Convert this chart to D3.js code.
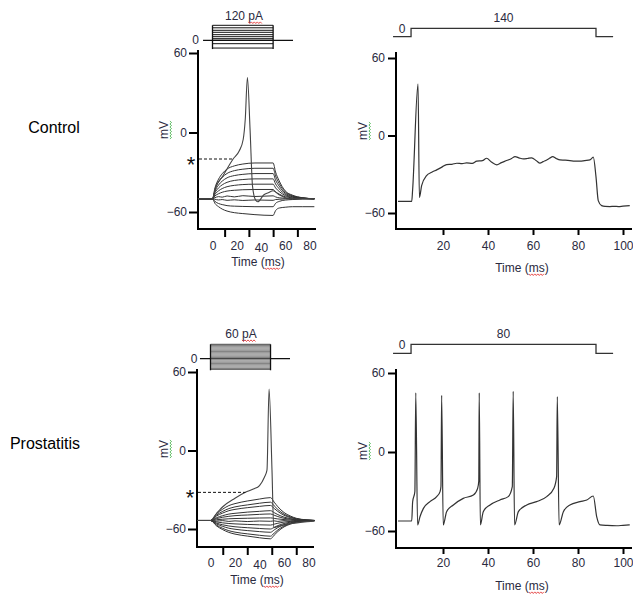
<!DOCTYPE html>
<html>
<head>
<meta charset="utf-8">
<script src="https://cdn.jsdelivr.net/npm/d3@7"></script>
<style>
  body { margin: 0; background: #fff; }
  svg text { font-family: "Liberation Sans", Arial, sans-serif; fill: #2a2a40; }
</style>
</head>
<body>
<div id="chart"></div>
<script>
// ---- labels and ticks ----
var rowLabels = ["Control", "Prostatitis"];
var stepLabels = ["120 pA", "60 pA"];
var rampLabels = ["140", "80"];
var yTicks = [-60, 0, 60];
var leftTickMarks = [10, 30, 50, 70];
var leftTickLabels = [0, 20, 40, 60, 80];
var rightTicks = [20, 40, 60, 80, 100];

// ---- control: current steps (left) ----
var ctrlStimCurrents = [120, 100, 80, 64, 45, 29, 13, 0, -27, -62];
var ctrlStepTime = [0, 50];
var ctrlTime = [-12, 0, 2, 5, 8, 12, 18, 25, 35, 50, 52, 55, 60, 66, 74, 84];
var ctrlTraces = [
  [-50, -50, -41.9, -35.2, -31.1, -27.6, -25.2, -23.8, -23, -23, -29.8, -36.5, -44.1, -47.3, -49.2, -50],
  [-50, -50, -43.1, -37.4, -33.9, -30.9, -28.8, -27.7, -27, -27, -32.8, -38.5, -44.9, -47.7, -49.3, -50],
  [-50, -50, -44.3, -39.6, -36.7, -34.2, -32.5, -31.6, -31, -31, -35.8, -40.5, -45.8, -48.1, -49.4, -50],
  [-50, -50, -45.5, -41.8, -39.5, -37.6, -36.2, -35.5, -35, -35, -38.8, -42.5, -46.7, -48.5, -49.6, -50],
  [-50, -50, -46.7, -44, -42.3, -40.9, -39.9, -39.3, -39, -39, -41.8, -44.5, -47.6, -48.9, -49.7, -50],
  [-50, -50, -47.9, -46.2, -45.1, -44.2, -43.6, -43.2, -43, -43, -44.8, -46.5, -48.5, -49.3, -49.8, -50],
  [-50, -50, -49.2, -48.4, -48.8, -47.9, -48.6, -47.7, -48.3, -47.8, -48.6, -49.3, -49.6, -50.2, -49.8, -50],
  [-50, -50, -50.4, -50.9, -50.6, -51.2, -50.8, -51.3, -50.9, -51.2, -50.6, -50.4, -50.1, -50, -50, -50],
  [-50, -50, -52, -53.6, -54.4, -55.2, -55.6, -55.8, -56, -56, -53.5, -52, -51, -50.6, -50.2, -50],
  [-50, -50, -53.5, -56, -57.8, -59.3, -60.5, -61.2, -62, -62.6, -59, -57, -56.4, -56, -56, -56]
];
var ctrlSpikeTime = [-12, 0, 3, 8.4, 17, 22, 25.3, 27, 28.8, 31, 33, 35.5, 37.3, 42.4, 46, 50, 54.7, 62.9, 70, 84];
var ctrlSpikeV = [-50, -50, -40.5, -33, -20, -14, -5.3, 9.8, 41.5, 2, -40.5, -51, -52.3, -47, -45.5, -44, -46.8, -49.8, -50, -50];
var ctrlThreshold = [17, -20];

// ---- control: long step (right) ----
var ctrlRampTime = [-2.2, 5.8, 88, 95.6];
var ctrlRampLevel = 140;
var ctrlTrainTime = [0, 6.1, 6.5, 8.9, 9.5, 10.5, 12.7, 15, 17.2, 19.5, 21.6, 24, 26.1, 28.5, 30.5, 33, 35, 37.5, 39.4, 41.5,
  43.9, 46, 48.3, 50.5, 52, 54, 55.7, 57.5, 59.4, 61.5, 63.1, 64.5, 66.1, 67.5, 68.7, 70.5, 72, 74, 76.4, 78.5,
  80.9, 83, 85.3, 86.8, 88, 89, 90.5, 92, 94.2, 96, 98, 100, 103];
var ctrlTrainV = [-51, -51, -42, 40, -48, -38.8, -31, -28.5, -26.6, -24.5, -22.5, -22.3, -21.5, -21.8, -21.2, -21.6, -19.9, -19.5, -17.6, -20.5,
  -22.7, -21, -19.4, -17.8, -16.3, -17.5, -18.1, -17.8, -17.3, -19.5, -21.4, -20.2, -18.9, -17.5, -16.3, -18, -18.9, -19.1, -19.4, -19.8,
  -19.9, -19.4, -18.9, -16.8, -32, -50.4, -54.3, -54.9, -55, -54.8, -55, -54.7, -54.3];

// ---- prostatitis: current steps (left) ----
var prosStimCurrents = [60, 55, 50, 45, 40, 35, 30, 25, 20, 15, 10, 5, 0, -5, -10, -15, -20, -25, -30, -35, -40, -44];
var prosStepTime = [0, 49];
var prosTime = [-11, 0, 5, 10, 15, 20, 30, 40, 49, 52, 55, 60, 65, 70, 78, 85];
var prosTraces = [
  [-53.5, -53.5, -48.3, -44.8, -42.1, -40.6, -38.6, -37.1, -36, -39.5, -43, -47.4, -50, -51.8, -53, -53.5],
  [-53.5, -53.5, -49.3, -46.5, -44.4, -43.1, -41.6, -40.3, -39.5, -42.3, -45.1, -48.6, -50.7, -52.1, -53.1, -53.5],
  [-53.5, -53.5, -50, -47.8, -46, -45, -43.7, -42.7, -42, -44.3, -46.6, -49.5, -51.2, -52.4, -53.2, -53.5],
  [-53.5, -53.5, -51.3, -49.8, -48.6, -48, -47.1, -46.5, -46, -47.5, -49, -50.9, -52, -52.8, -53.3, -53.5],
  [-53.5, -53.5, -52, -51, -50.3, -49.8, -49.3, -48.8, -48.5, -49.5, -50.5, -51.8, -52.5, -53, -53.4, -53.5],
  [-53.5, -53.5, -52.9, -52.5, -52.2, -52, -51.8, -51.6, -51.5, -51.9, -52.3, -52.8, -53.1, -53.3, -53.4, -53.5],
  [-53.5, -53.5, -53.9, -53.6, -54.2, -53.8, -54.3, -53.9, -54.1, -53.8, -54.2, -53.6, -53.9, -53.4, -53.6, -53.5],
  [-53.5, -53.5, -54.6, -55.3, -55.8, -56.1, -56.5, -56.8, -57, -56.3, -55.6, -54.7, -54.2, -53.9, -53.6, -53.5],
  [-53.5, -53.5, -55.5, -56.8, -57.7, -58.3, -59, -59.6, -60, -58.7, -57.4, -55.8, -54.8, -54.2, -53.7, -53.5],
  [-53.5, -53.5, -56.2, -58, -59.4, -60.2, -61.2, -62, -62.5, -60.7, -58.9, -56.7, -55.3, -54.4, -53.8, -53.5],
  [-53.5, -53.5, -57.1, -59.5, -61.3, -62.4, -63.7, -64.8, -65.5, -63.1, -60.7, -57.7, -55.9, -54.7, -53.9, -53.5],
  [-53.5, -53.5, -57.7, -60.5, -62.6, -63.9, -65.4, -66.7, -67.5, -64.7, -61.9, -58.4, -56.3, -54.9, -53.9, -53.5]
];
var prosSpikeTime = [-11, 0, 5, 10, 20, 28.5, 35, 40, 44, 46.1, 47.8, 50.2, 51.6, 55, 65, 85];
var prosSpikeV = [-53.5, -53.5, -48, -43, -36.5, -32, -29.5, -26.8, -20.4, -15, 47, -15, -59, -58, -56, -54];
var prosThreshold = [28.5, -32];

// ---- prostatitis: long step (right) ----
var prosRampTime = [-2.2, 5.8, 88, 95.6];
var prosRampLevel = 80;
var prosTrainTime = [0, 6.1, 6.5, 7.5, 7.9, 8.7, 9.8, 11.3, 14.2, 17.2, 18.7, 19.1, 19.4, 20.1, 21.6, 24.6, 29, 33.5, 35.4, 35.9, 36.1,
  36.6, 37.9, 40.9, 45.3, 49, 50.8, 51.2, 51.8, 53.5, 57.2, 61.6, 66.1, 69.3, 70.5, 70.8, 71.6, 73.5, 76.4, 80.9, 83.9,
  86.8, 88.3, 89.8, 93, 97.2, 100, 103];
var prosTrainV = [-52.4, -52.4, -38, -30, 45, -55.4, -49, -42.8, -37.7, -33.9, -30.1, -26, 43, -55.4, -45.3, -40.2, -35.2, -32.7, -27.6, -22, 45,
  -55.4, -45.3, -40.2, -36.4, -33.9, -26.3, 46, -55.4, -45.3, -40.2, -37.7, -33.9, -27.6, -18.7, 42, -55.4, -45.3, -40.2, -37.7, -36.4,
  -33.4, -49, -55.4, -55.8, -56, -55.7, -55.4];

// ---- drawing ----
var svg = d3.select("#chart").append("svg")
  .attr("width", 633)
  .attr("height", 614);

// wavy spell-check underline
function squiggle(g, x0, x1, y, color) {
  var pts = [];
  for (var x = x0, i = 0; x <= x1 + 0.01; x += 1.5, i++) {
    pts.push([x, y + (i % 2 ? 1 : -0.6)]);
  }
  g.append("path")
    .attr("d", d3.line()(pts))
    .attr("fill", "none")
    .attr("stroke", color)
    .attr("stroke-width", 0.8);
}

function styleAxis(g) {
  g.attr("font-size", 12).attr("font-family", "Liberation Sans, Arial, sans-serif");
  g.select(".domain").remove();
  g.selectAll(".tick line").attr("stroke", "#000").attr("stroke-width", 2);
}

function drawFrame(p) {
  var g = svg.append("g");

  // axis lines
  g.append("line")
    .attr("x1", p.axisX).attr("x2", p.axisX)
    .attr("y1", p.yTop).attr("y2", p.axisY + 1)
    .attr("stroke", "#000").attr("stroke-width", 2);
  g.append("line")
    .attr("x1", p.axisX - 1).attr("x2", p.xEnd)
    .attr("y1", p.axisY).attr("y2", p.axisY)
    .attr("stroke", "#000").attr("stroke-width", 2);

  // y axis
  var ya = g.append("g")
    .attr("transform", "translate(" + p.axisX + ",0)")
    .call(d3.axisLeft(p.y).tickValues(yTicks).tickSize(p.ySize).tickPadding(p.yPad));
  styleAxis(ya);

  // x axis
  if (p.left) {
    var xm = g.append("g")
      .attr("transform", "translate(0," + p.axisY + ")")
      .call(d3.axisBottom(p.x).tickValues(leftTickMarks).tickSize(8).tickFormat(""));
    styleAxis(xm);
    var xl = g.append("g")
      .attr("transform", "translate(0," + p.axisY + ")")
      .call(d3.axisBottom(p.x).tickValues(leftTickLabels).tickSize(0).tickPadding(p.xPad));
    styleAxis(xl);
    xl.selectAll(".tick text").attr("dy", function(d) { return d === 40 ? "0.95em" : "0.71em"; });
  } else {
    var xa = g.append("g")
      .attr("transform", "translate(0," + p.axisY + ")")
      .call(d3.axisBottom(p.x).tickValues(rightTicks).tickSize(6).tickPadding(p.xPad));
    styleAxis(xa);
  }

  // Time (ms)
  var tl = g.append("text")
    .attr("x", p.timeX).attr("y", p.timeY)
    .attr("text-anchor", "middle")
    .attr("font-size", 12)
    .text("Time (ms)");
  var n = tl.node();
  var s = n.getStartPositionOfChar(6).x;
  squiggle(g, s, s + n.getSubStringLength(6, 2), p.timeY + 2.5, "#e02020");

  // mV
  var mg = g.append("g").attr("transform", "translate(" + p.mvX + "," + p.mvY + ") rotate(-90)");
  var mv = mg.append("text")
    .attr("text-anchor", "middle")
    .attr("font-size", 12)
    .text("mV");
  var bw = mv.node().getComputedTextLength();
  squiggle(mg, -bw / 2, bw / 2, 2.5, "#3cb043");
  return g;
}

function linePath(xs, ys, x, y, curve) {
  return d3.line()
    .x(function(d, i) { return x(xs[i]); })
    .y(function(d) { return y(d); })
    .curve(curve || d3.curveLinear)(ys);
}

// ---------- panel with current-step family ----------
function leftPanel(o) {
  var g = drawFrame(o);

  // stimulus box
  var cs = o.cur;
  var sg = g.append("g");
  sg.append("line")
    .attr("x1", o.x(o.baseFrom)).attr("x2", o.x(o.baseTo))
    .attr("y1", cs(0)).attr("y2", cs(0))
    .attr("stroke", "#111").attr("stroke-width", 1.2);
  sg.selectAll("line.step")
    .data(o.currents)
    .enter().append("line")
    .attr("class", "step")
    .attr("x1", o.x(o.stepTime[0])).attr("x2", o.x(o.stepTime[1]))
    .attr("y1", function(d) { return cs(d); })
    .attr("y2", function(d) { return cs(d); })
    .attr("stroke", function(d, i) { return (i === 0 || i === o.currents.length - 1) ? "#111" : o.innerColor; })
    .attr("stroke-width", o.innerWidth);
  var ext = d3.extent(o.currents);
  o.stepTime.forEach(function(t) {
    sg.append("line")
      .attr("x1", o.x(t)).attr("x2", o.x(t))
      .attr("y1", cs(ext[1])).attr("y2", cs(ext[0]) + 1)
      .attr("stroke", "#111").attr("stroke-width", 1.3);
  });
  g.append("text")
    .attr("x", o.zeroX).attr("y", cs(0) + 4)
    .attr("text-anchor", "end").attr("font-size", 12)
    .text("0");
  var lab = g.append("text")
    .attr("x", o.labX).attr("y", o.labY)
    .attr("text-anchor", "middle").attr("font-size", 12)
    .text(o.label);
  var ln = lab.node();
  var ls = ln.getStartPositionOfChar(o.label.length - 2).x;
  squiggle(g, ls, ls + ln.getSubStringLength(o.label.length - 2, 2), o.labY + 2.5, "#e02020");

  // voltage traces
  g.selectAll("path.trace")
    .data(o.traces)
    .enter().append("path")
    .attr("class", "trace")
    .attr("d", function(d) { return linePath(o.time, d, o.x, o.y, d3.curveMonotoneX); })
    .attr("fill", "none")
    .attr("stroke", "#333")
    .attr("stroke-width", 1);
  g.append("path")
    .attr("d", linePath(o.spikeTime, o.spikeV, o.x, o.y, d3.curveMonotoneX))
    .attr("fill", "none")
    .attr("stroke", "#444")
    .attr("stroke-width", 1.1);

  // threshold
  g.append("line")
    .attr("x1", o.axisX + 1).attr("x2", o.x(o.threshold[0]))
    .attr("y1", o.y(o.threshold[1])).attr("y2", o.y(o.threshold[1]))
    .attr("stroke", "#111").attr("stroke-width", 1).attr("stroke-dasharray", "3,2");
  g.append("text")
    .attr("x", o.axisX - 7).attr("y", o.y(o.threshold[1]) + 12.5)
    .attr("text-anchor", "middle").attr("font-size", 22)
    .style("fill", "#111")
    .text("*");
}

// ---------- panel with long step ----------
function rightPanel(o) {
  var g = drawFrame(o);
  var rs = o.ramp;
  var stepPts = [
    [o.rampTime[0], 0], [o.rampTime[1], 0], [o.rampTime[1], o.rampLevel],
    [o.rampTime[2], o.rampLevel], [o.rampTime[2], 0], [o.rampTime[3], 0]
  ];
  g.append("path")
    .attr("d", d3.line().x(function(d) { return o.x(d[0]); }).y(function(d) { return rs(d[1]); })(stepPts))
    .attr("fill", "none").attr("stroke", "#333").attr("stroke-width", 1.3);
  g.append("text")
    .attr("x", o.x((o.rampTime[0] + o.rampTime[1]) / 2)).attr("y", rs(0) - 4)
    .attr("text-anchor", "middle").attr("font-size", 12)
    .text("0");
  g.append("text")
    .attr("x", o.x((o.rampTime[1] + o.rampTime[2]) / 2)).attr("y", rs(o.rampLevel) - 6)
    .attr("text-anchor", "middle").attr("font-size", 12)
    .text(o.label);

  g.append("path")
    .attr("d", linePath(o.time, o.v, o.x, o.y, d3.curveMonotoneX))
    .attr("fill", "none")
    .attr("stroke", "#333")
    .attr("stroke-width", 1.2);
}

// scales
var xTL = d3.scaleLinear().domain([0, 80]).range([212.5, 309.5]);
var yTL = d3.scaleLinear().domain([-60, 60]).range([212, 53]);
var xBL = d3.scaleLinear().domain([0, 80]).range([210.5, 308.5]);
var yBL = d3.scaleLinear().domain([-60, 60]).range([529, 372]);
var xR = d3.scaleLinear().domain([0, 100]).range([398, 623]);
var yTR = d3.scaleLinear().domain([-60, 60]).range([213, 58]);
var yBR = d3.scaleLinear().domain([-60, 60]).range([531, 373]);

leftPanel({
  left: true, x: xTL, y: yTL, axisX: 198, axisY: 229, xEnd: 316, yTop: 50,
  ySize: 9, yPad: 2, xPad: 12,
  timeX: 258, timeY: 266, mvX: 168, mvY: 130,
  cur: d3.scaleLinear().domain([0, 120]).range([40.3, 25.3]),
  currents: ctrlStimCurrents, stepTime: ctrlStepTime, baseFrom: -7.8, baseTo: 66.4,
  innerColor: "#111", innerWidth: 1,
  zeroX: 199, labX: 244, labY: 20, label: stepLabels[0],
  time: ctrlTime, traces: ctrlTraces, spikeTime: ctrlSpikeTime, spikeV: ctrlSpikeV, threshold: ctrlThreshold
});

leftPanel({
  left: true, x: xBL, y: yBL, axisX: 197, axisY: 547, xEnd: 314, yTop: 369,
  ySize: 9, yPad: 2, xPad: 11,
  timeX: 257, timeY: 584, mvX: 168, mvY: 449,
  cur: d3.scaleLinear().domain([0, 60]).range([358.7, 344.3]),
  currents: prosStimCurrents, stepTime: prosStepTime, baseFrom: -8.6, baseTo: 64.9,
  innerColor: "#666", innerWidth: 0.8,
  zeroX: 197.5, labX: 241, labY: 338, label: stepLabels[1],
  time: prosTime, traces: prosTraces, spikeTime: prosSpikeTime, spikeV: prosSpikeV, threshold: prosThreshold
});

rightPanel({
  left: false, x: xR, y: yTR, axisX: 396, axisY: 229, xEnd: 632, yTop: 52,
  ySize: 8, yPad: 3, xPad: 6,
  timeX: 522, timeY: 272, mvX: 367, mvY: 131,
  ramp: d3.scaleLinear().domain([0, 140]).range([36.7, 28.3]),
  rampTime: ctrlRampTime, rampLevel: ctrlRampLevel, label: rampLabels[0],
  time: ctrlTrainTime, v: ctrlTrainV
});

rightPanel({
  left: false, x: xR, y: yBR, axisX: 396, axisY: 548, xEnd: 632, yTop: 369,
  ySize: 8, yPad: 3, xPad: 4,
  timeX: 522, timeY: 590, mvX: 367, mvY: 451,
  ramp: d3.scaleLinear().domain([0, 80]).range([353.3, 344.3]),
  rampTime: prosRampTime, rampLevel: prosRampLevel, label: rampLabels[1],
  time: prosTrainTime, v: prosTrainV
});

// row labels
svg.selectAll("text.row")
  .data(rowLabels)
  .enter().append("text")
  .attr("class", "row")
  .attr("x", function(d, i) { return i === 0 ? 54 : 45; })
  .attr("y", function(d, i) { return i === 0 ? 133 : 449; })
  .attr("text-anchor", "middle")
  .attr("font-size", 16)
  .style("fill", "#000")
  .text(function(d) { return d; });
</script>
</body>
</html>
